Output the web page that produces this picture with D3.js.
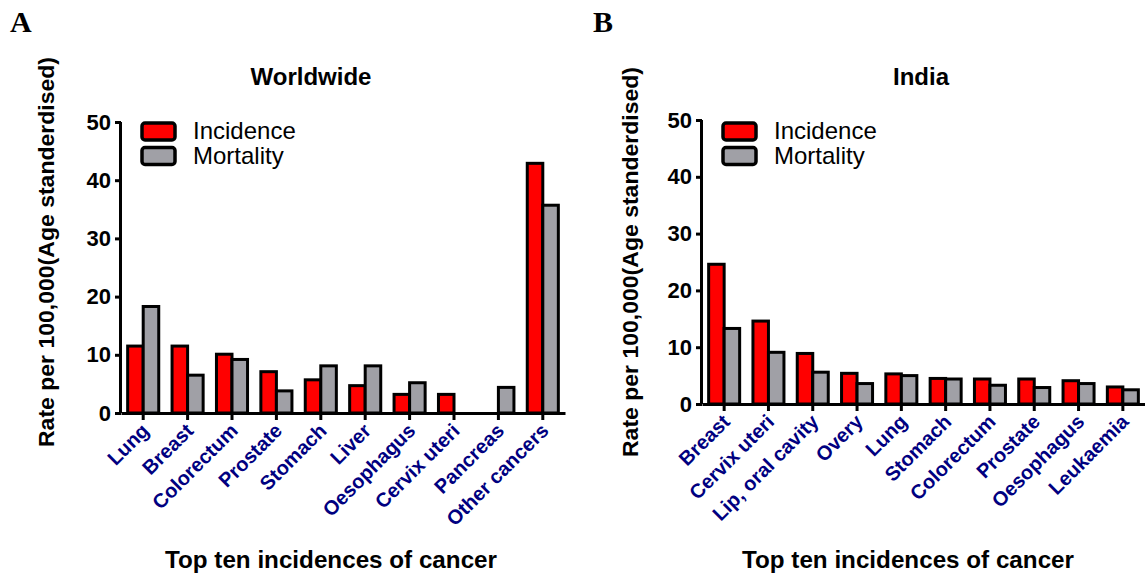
<!DOCTYPE html>
<html>
<head>
<meta charset="utf-8">
<script src="https://cdn.jsdelivr.net/npm/d3@7"></script>
<style>
  html, body { margin: 0; padding: 0; background: #fff; }
  svg { display: block; }
</style>
</head>
<body>
<svg id="chart" width="1145" height="573"></svg>
<script>
// ---- Data ----
const worldCategories = ["Lung", "Breast", "Colorectum", "Prostate", "Stomach", "Liver", "Oesophagus", "Cervix uteri", "Pancreas", "Other cancers"];
const worldIncidence = [11.5, 11.5, 10.1, 7.1, 5.7, 4.7, 3.2, 3.2, null, 42.9];
const worldMortality = [18.3, 6.5, 9.2, 3.8, 8.1, 8.1, 5.2, null, 4.4, 35.7];

const indiaCategories = ["Breast", "Cervix uteri", "Lip, oral cavity", "Overy", "Lung", "Stomach", "Colorectum", "Prostate", "Oesophagus", "Leukaemia"];
const indiaIncidence = [24.6, 14.6, 8.9, 5.4, 5.3, 4.5, 4.4, 4.4, 4.1, 3.0];
const indiaMortality = [13.3, 9.1, 5.6, 3.6, 5.0, 4.4, 3.3, 2.9, 3.6, 2.5];

const seriesNames = ["Incidence", "Mortality"];
const seriesColors = ["#ff0000", "#a0a0a6"];
const yTicks = [0, 10, 20, 30, 40, 50];
const yDomain = [0, 50];
const yAxisTitle = "Rate per 100,000(Age standerdised)";
const xAxisTitle = "Top ten incidences of cancer";

const SANS = "'Liberation Sans', Arial, sans-serif";
const SERIF = "'Liberation Serif', 'Times New Roman', serif";

const svg = d3.select("#chart");

function panel(opt) {
  const g = svg.append("g").style("font-family", SANS);
  const x = d3.scaleBand().domain(opt.categories).range([opt.x0, opt.x1]).paddingInner(0.3).paddingOuter(0.15);
  const xs = d3.scaleBand().domain(seriesNames).range([0, x.bandwidth()]);
  const y = d3.scaleLinear().domain(yDomain).range([opt.y0, opt.yTop]);

  // bars
  const rows = [];
  opt.categories.forEach((c, i) => {
    [opt.inc[i], opt.mor[i]].forEach((v, j) => {
      if (v !== null && v !== undefined) rows.push({c, s: seriesNames[j], v, j});
    });
  });
  g.append("g").selectAll("rect").data(rows).join("rect")
    .attr("x", d => x(d.c) + xs(d.s))
    .attr("y", d => y(d.v))
    .attr("width", xs.bandwidth())
    .attr("height", d => y(0) - y(d.v))
    .attr("fill", d => seriesColors[d.j])
    .attr("stroke", "#000")
    .attr("stroke-width", 3);

  // y axis
  const ya = g.append("g").attr("transform", `translate(${opt.x0},0)`)
    .call(d3.axisLeft(y).tickValues(yTicks).tickSize(6).tickPadding(4).tickFormat(d3.format("d")));
  ya.attr("font-family", null);
  ya.select(".domain").attr("stroke-width", 3).attr("d", `M-0.5,${opt.yTop}V${opt.y0}`);
  ya.selectAll(".tick line").attr("stroke-width", 3);
  ya.selectAll(".tick text").attr("font-size", 22).attr("font-weight", "bold").attr("fill", "#000")
    .style("font-family", SANS);

  // x axis
  const xa = g.append("g").attr("transform", `translate(0,${opt.y0})`)
    .call(d3.axisBottom(x).tickSize(7).tickSizeOuter(0));
  xa.attr("font-family", null);
  xa.select(".domain").attr("stroke-width", 3);
  xa.selectAll(".tick line").attr("stroke-width", 3);
  xa.selectAll(".tick text")
    .attr("font-size", 20).attr("font-weight", "bold").attr("fill", "#000080")
    .style("font-family", SANS)
    .attr("text-anchor", "end")
    .attr("y", 0).attr("dy", 0)
    .attr("transform", "translate(7,19) rotate(-45)");

  // titles
  g.append("text").attr("x", opt.titleX).attr("y", 85).attr("text-anchor", "middle")
    .attr("font-size", 24).attr("font-weight", "bold").text(opt.title);
  g.append("text").attr("transform", `translate(${opt.yLabelX},${opt.yLabelY}) rotate(-90)`)
    .attr("text-anchor", "middle").attr("font-size", 22).attr("font-weight", "bold")
    .attr("textLength", 390).attr("lengthAdjust", "spacingAndGlyphs")
    .text(yAxisTitle);
  g.append("text").attr("x", opt.xLabelX).attr("y", 568).attr("text-anchor", "middle")
    .attr("font-size", 24).attr("font-weight", "bold")
    .attr("textLength", 332).attr("lengthAdjust", "spacingAndGlyphs").text(xAxisTitle);
  g.append("text").attr("x", opt.letterX).attr("y", 32)
    .style("font-family", SERIF)
    .attr("font-size", 30).attr("font-weight", "bold").text(opt.letter);

  // legend
  const lg = g.append("g").attr("transform", `translate(${opt.legX},${opt.legY})`);
  seriesNames.forEach((s, i) => {
    lg.append("rect").attr("x", 0).attr("y", i * 24.5).attr("width", 33).attr("height", 17)
      .attr("rx", 3).attr("fill", seriesColors[i]).attr("stroke", "#000").attr("stroke-width", 3.5);
    lg.append("text").attr("x", 51).attr("y", i * 24.5 + 16).attr("font-size", 24).text(s);
  });
}

panel({
  categories: worldCategories, inc: worldIncidence, mor: worldMortality,
  x0: 121, x1: 565, yTop: 122, y0: 413,
  title: "Worldwide", titleX: 311, yLabelX: 54, yLabelY: 252, xLabelX: 331,
  letter: "A", letterX: 10, legX: 142, legY: 123
});
panel({
  categories: indiaCategories, inc: indiaIncidence, mor: indiaMortality,
  x0: 702, x1: 1145, yTop: 120, y0: 404,
  title: "India", titleX: 921, yLabelX: 638, yLabelY: 262, xLabelX: 908,
  letter: "B", letterX: 593, legX: 723, legY: 123
});
</script>
</body>
</html>
